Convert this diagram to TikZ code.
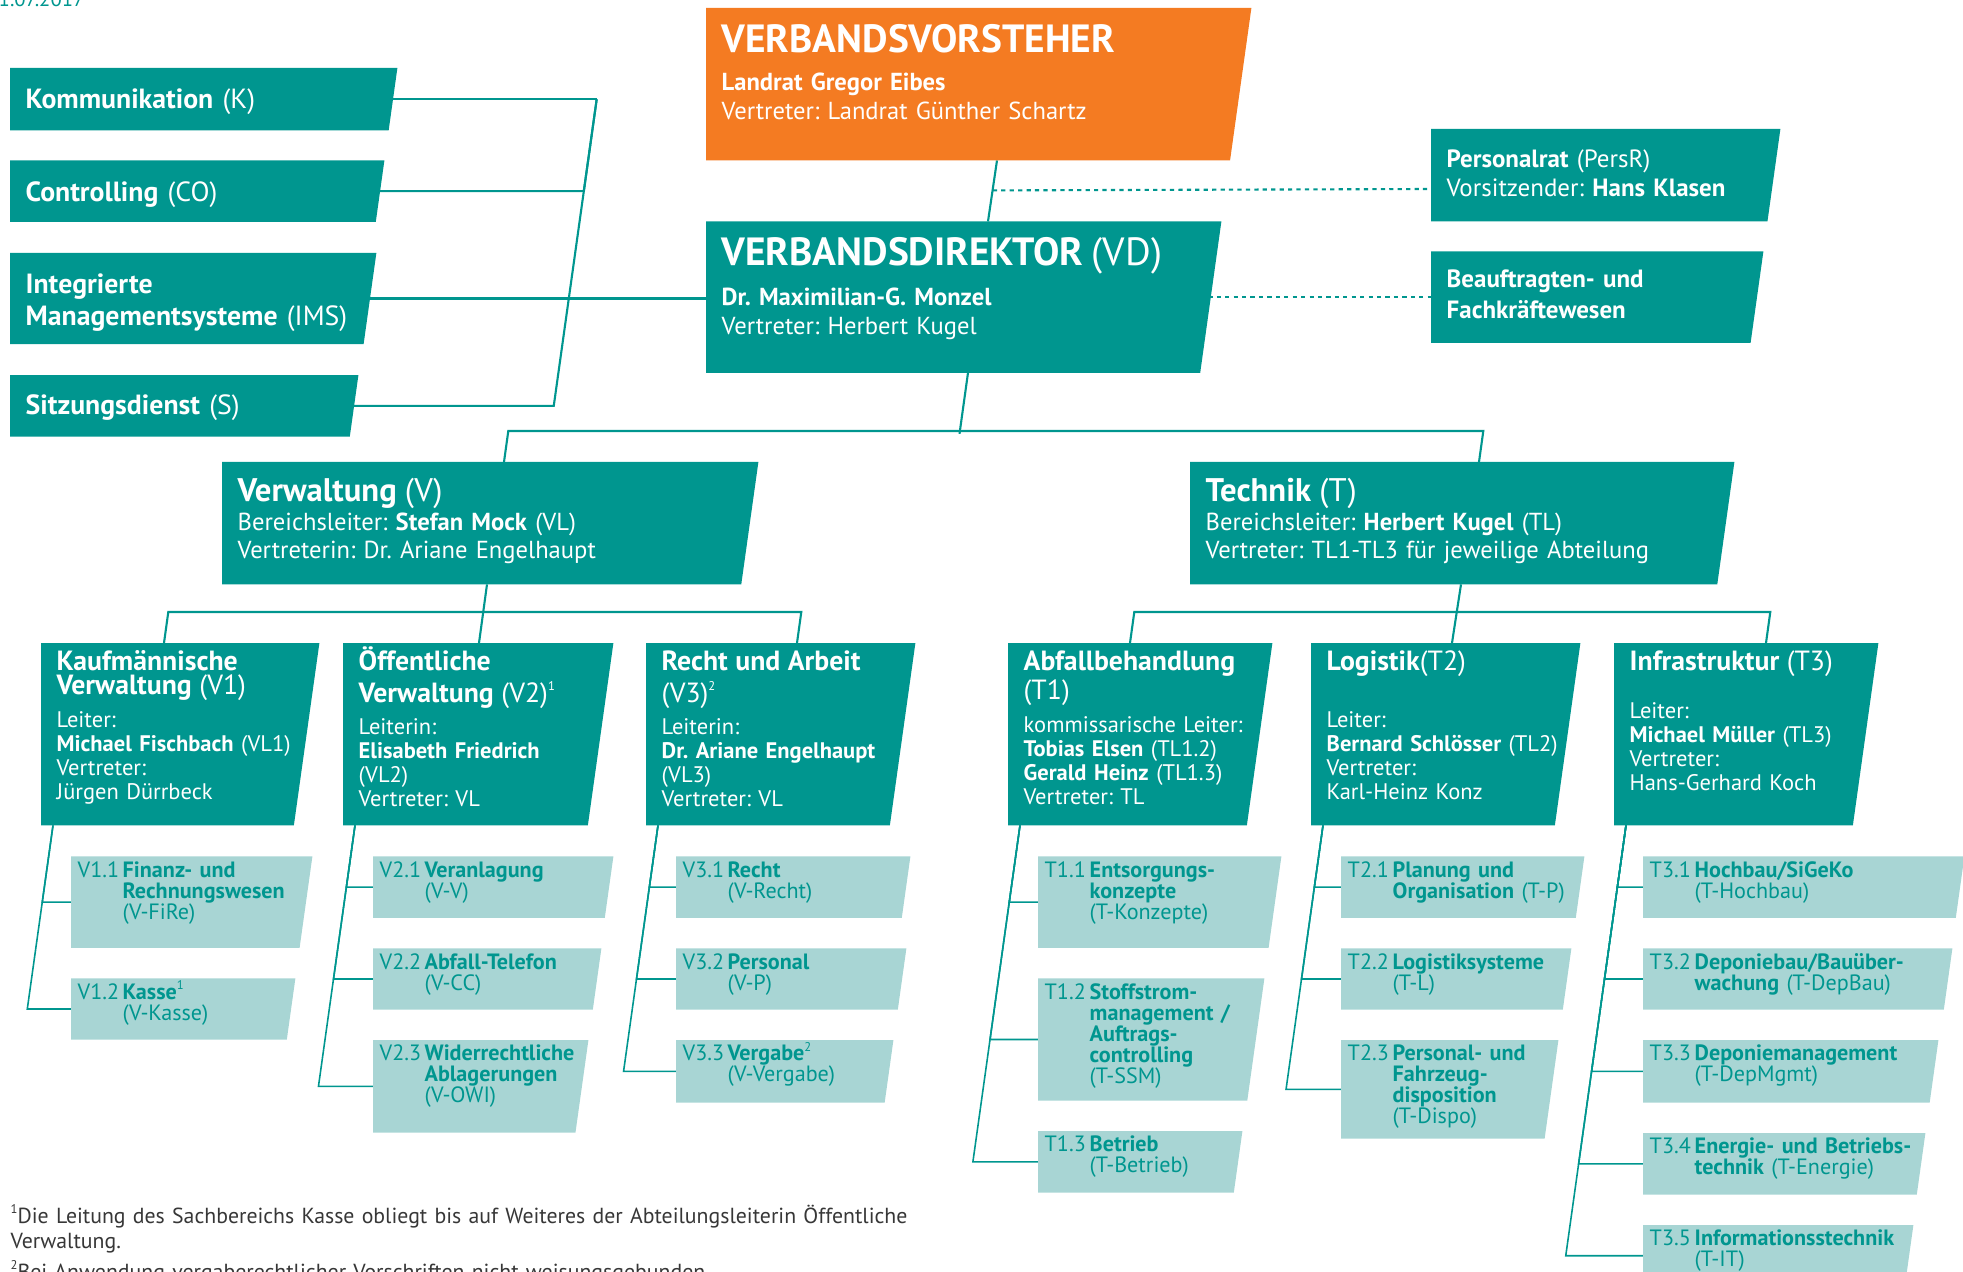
\documentclass[tikz,border=0pt]{standalone}
\usepackage{fontspec}
\setmainfont{PT Sans}
\usetikzlibrary{calc, positioning, backgrounds}
\definecolor{vbteal}{RGB}{0,150,143}
\definecolor{vblight}{RGB}{168,213,212}
\definecolor{vborange}{RGB}{244,123,34}
\definecolor{vbgrey}{RGB}{55,55,55}
\frenchspacing
\newcommand{\tophead}[1]{{\fontsize{11.2pt}{2.9mm}\selectfont #1}}
\newcommand{\areahead}[1]{{\fontsize{9.3pt}{2.85mm}\selectfont #1}}
\newcommand{\depthead}[1]{{\fontsize{7.9pt}{2.4mm}\selectfont #1}}
\newcommand{\fnmark}[1]{\raisebox{0.85ex}{\fontsize{3.6pt}{0pt}\selectfont #1}}
\newcommand{\unitline}[2]{\makebox[4.5mm][l]{#1}\parbox[t]{\dimexpr\linewidth-4.5mm\relax}{#2}}
\tikzstyle{chartbox} = [rectangle, anchor=north west, inner xsep=1.5mm, inner ysep=0pt, align=left, text=white]
\tikzstyle{topbox} = [chartbox, font=\fontsize{7pt}{2.9mm}\selectfont]
\tikzstyle{staffbox} = [chartbox, font=\fontsize{7.9pt}{3.2mm}\selectfont, text height=4mm]
\tikzstyle{sidebox} = [chartbox, font=\fontsize{7.1pt}{2.9mm}\selectfont]
\tikzstyle{areabox} = [chartbox, font=\fontsize{7pt}{2.85mm}\selectfont, text height=3.9mm, text depth=8.2mm]
\tikzstyle{deptbox} = [chartbox, font=\fontsize{6.4pt}{2.4mm}\selectfont, text height=2.7mm, text depth=15.4mm]
\tikzstyle{unitbox} = [rectangle, anchor=north west, inner xsep=0.6mm, inner ysep=0pt, align=left, text=vbteal, font=\fontsize{6.3pt}{2.1mm}\selectfont, text height=2mm]
\tikzstyle{note} = [anchor=base west, inner sep=0pt, align=left, text width=100mm, text=vbgrey, font=\fontsize{6.2pt}{2.5mm}\selectfont]
\tikzstyle{link} = [draw=vbteal, line width=0.6pt]
\tikzstyle{sublink} = [draw=vbteal, line width=0.45pt]
\tikzstyle{dotlink} = [draw=vbteal, line width=0.6pt, dash pattern=on 1.2pt off 1.2pt]

\begin{document}
\begin{tikzpicture}[x=0.1mm, y=-0.1mm]
    \useasboundingbox (0,0) rectangle (1963,1272);

    % Nodes
    \node [anchor=base west, inner sep=0pt, text=vbteal, font=\fontsize{5.9pt}{2.5mm}\selectfont] (date) at (-2,7) {1.07.2017};

    \node [topbox, text width=51.4mm, text height=4.4mm, text depth=10.7mm] (vv) at (706,8)
        {\tophead{\textbf{VERBANDSVORSTEHER}}\\[0.9mm]
         \textbf{Landrat Gregor Eibes}\\
         Vertreter: Landrat Günther Schartz};
    \node [topbox, text width=48.4mm, text height=4.3mm, text depth=10.7mm, below right=6.1mm and 0mm of vv.south west] (vd)
        {\tophead{\textbf{VERBANDSDIREKTOR} (VD)}\\[1.1mm]
         \textbf{Dr. Maximilian-G. Monzel}\\
         Vertreter: Herbert Kugel};
    \node [sidebox, text width=31.8mm, text height=3.8mm, text depth=5.3mm] (persr) at (1431,129)
        {\textbf{Personalrat} (PersR)\\ Vorsitzender: \textbf{Hans Klasen}};
    \node [sidebox, text width=30.1mm, text height=3.5mm, text depth=5.5mm, below right=3mm and 0mm of persr.south west] (bfw)
        {\textbf{Beauftragten- und}\\[0.2mm] \textbf{Fachkräftewesen}};

    \node [staffbox, text width=35.6mm, text depth=2.1mm] (k) at (10,68) {\textbf{Kommunikation} (K)};
    \node [staffbox, text width=34.3mm, text depth=2mm, below right=3mm and 0mm of k.south west] (co) {\textbf{Controlling} (CO)};
    \node [staffbox, text width=33.5mm, text depth=5mm, below right=3.1mm and 0mm of co.south west] (ims)
        {\textbf{Integrierte}\\ \textbf{Managementsysteme} (IMS)};
    \node [staffbox, text width=31.7mm, text height=3.9mm, text depth=2.1mm, below right=3.1mm and 0mm of ims.south west] (s) {\textbf{Sitzungsdienst} (S)};

    \node [areabox, text width=50.5mm] (v) at (222,462)
        {\areahead{\textbf{Verwaltung} (V)}\\
         Bereichsleiter: \textbf{Stefan Mock} (VL)\\
         Vertreterin: Dr. Ariane Engelhaupt};
    \node [areabox, text width=51.3mm] (t) at (1190,462)
        {\areahead{\textbf{Technik} (T)}\\
         Bereichsleiter: \textbf{Herbert Kugel} (TL)\\
         Vertreter: TL1-TL3 für jeweilige Abteilung};

    \node [deptbox, text width=24.7mm] (v1) at (41,643)
        {\depthead{\textbf{Kaufmännische}}\\ \depthead{\textbf{Verwaltung} (V1)}\\[0.9mm]
         Leiter:\\ \textbf{Michael Fischbach} (VL1)\\ Vertreter:\\ Jürgen Dürrbeck};
    \node [deptbox, text width=23.9mm] (v2) at (343,643)
        {\depthead{\textbf{Öffentliche}}\\[0.8mm] \depthead{\textbf{Verwaltung} (V2)\fnmark{1}}\\[0.8mm]
         Leiterin:\\ \textbf{Elisabeth Friedrich}\\ (VL2)\\ Vertreter: VL};
    \node [deptbox, text width=23.8mm] (v3) at (646,643)
        {\depthead{\textbf{Recht und Arbeit}}\\[0.8mm] \depthead{(V3)\fnmark{2}}\\[0.8mm]
         Leiterin:\\ \textbf{Dr. Ariane Engelhaupt}\\ (VL3)\\ Vertreter: VL};
    \node [deptbox, text width=23.3mm] (t1) at (1008,643)
        {\depthead{\textbf{Abfallbehandlung}}\\ \depthead{(T1)}\\[0.9mm]
         kommissarische Leiter:\\ \textbf{Tobias Elsen} (TL1.2)\\ \textbf{Gerald Heinz} (TL1.3)\\ Vertreter: TL};
    \node [deptbox, text width=23.8mm] (t2) at (1311,643)
        {\depthead{\textbf{Logistik}(T2)}\\[3.3mm]
         Leiter:\\ \textbf{Bernard Schlösser} (TL2)\\ Vertreter:\\ Karl-Heinz Konz};
    \node [deptbox, text width=23.3mm] (t3) at (1614,643)
        {\depthead{\textbf{Infrastruktur} (T3)}\\[2.4mm]
         Leiter:\\ \textbf{Michael Müller} (TL3)\\ Vertreter:\\ Hans-Gerhard Koch};

    \node [unitbox, text width=22.8mm, text depth=7mm, below right=3.1mm and 3mm of v1.south west] (v11)
        {\unitline{V1.1}{\textbf{Finanz- und}\\ \textbf{Rechnungswesen}\\ (V-FiRe)}};
    \node [unitbox, text width=21.1mm, text depth=4mm, below right=3.05mm and 0mm of v11.south west] (v12)
        {\unitline{V1.2}{\textbf{Kasse}\fnmark{1}\\ (V-Kasse)}};
    \node [unitbox, text width=22.7mm, text depth=4mm, below right=3.1mm and 3mm of v2.south west] (v21)
        {\unitline{V2.1}{\textbf{Veranlagung}\\ (V-V)}};
    \node [unitbox, text width=21.5mm, text depth=4mm, below right=3.05mm and 0mm of v21.south west] (v22)
        {\unitline{V2.2}{\textbf{Abfall-Telefon}\\ (V-CC)}};
    \node [unitbox, text width=20.2mm, text depth=7.1mm, below right=3.05mm and 0mm of v22.south west] (v23)
        {\unitline{V2.3}{\textbf{Widerrechtliche}\\ \textbf{Ablagerungen}\\ (V-OWI)}};
    \node [unitbox, text width=22.1mm, text depth=4mm, below right=3.1mm and 3mm of v3.south west] (v31)
        {\unitline{V3.1}{\textbf{Recht}\\ (V-Recht)}};
    \node [unitbox, text width=21.7mm, text depth=4mm, below right=3.05mm and 0mm of v31.south west] (v32)
        {\unitline{V3.2}{\textbf{Personal}\\ (V-P)}};
    \node [unitbox, text width=20.4mm, text depth=4.1mm, below right=3.05mm and 0mm of v32.south west] (v33)
        {\unitline{V3.3}{\textbf{Vergabe}\fnmark{2}\\ (V-Vergabe)}};

    \node [unitbox, text width=23mm, text depth=7mm, below right=3.1mm and 3mm of t1.south west] (t11)
        {\unitline{T1.1}{\textbf{Entsorgungs-}\\ \textbf{konzepte}\\ (T-Konzepte)}};
    \node [unitbox, text width=21.3mm, text depth=10.1mm, below right=3.05mm and 0mm of t11.south west] (t12)
        {\unitline{T1.2}{\textbf{Stoffstrom-}\\ \textbf{management /}\\ \textbf{Auftrags-}\\ \textbf{controlling}\\ (T-SSM)}};
    \node [unitbox, text width=19.1mm, text depth=4mm, below right=3.05mm and 0mm of t12.south west] (t13)
        {\unitline{T1.3}{\textbf{Betrieb}\\ (T-Betrieb)}};
    \node [unitbox, text width=23mm, text depth=4mm, below right=3.1mm and 3mm of t2.south west] (t21)
        {\unitline{T2.1}{\textbf{Planung und}\\ \textbf{Organisation} (T-P)}};
    \node [unitbox, text width=21.7mm, text depth=4mm, below right=3.05mm and 0mm of t21.south west] (t22)
        {\unitline{T2.2}{\textbf{Logistiksysteme}\\ (T-L)}};
    \node [unitbox, text width=20.4mm, text depth=7.7mm, below right=3.05mm and 0mm of t22.south west] (t23)
        {\unitline{T2.3}{\textbf{Personal- und}\\ \textbf{Fahrzeug-}\\ \textbf{disposition}\\ (T-Dispo)}};
    \node [unitbox, text width=30.8mm, text depth=4mm, below right=3.1mm and 2.9mm of t3.south west] (t31)
        {\unitline{T3.1}{\textbf{Hochbau/SiGeKo}\\ (T-Hochbau)}};
    \node [unitbox, text width=29.6mm, text depth=4mm, below right=3.05mm and 0mm of t31.south west] (t32)
        {\unitline{T3.2}{\textbf{Deponiebau/Bauüber-}\\ \textbf{wachung} (T-DepBau)}};
    \node [unitbox, text width=28.2mm, text depth=4.1mm, below right=3.05mm and 0mm of t32.south west] (t33)
        {\unitline{T3.3}{\textbf{Deponiemanagement}\\ (T-DepMgmt)}};
    \node [unitbox, text width=26.9mm, text depth=4mm, below right=3.05mm and 0mm of t33.south west] (t34)
        {\unitline{T3.4}{\textbf{Energie- und Betriebs-}\\ \textbf{technik} (T-Energie)}};
    \node [unitbox, text width=25.7mm, text depth=4mm, below right=3.05mm and 0mm of t34.south west] (t35)
        {\unitline{T3.5}{\textbf{Informationsstechnik}\\ (T-IT)}};

    \node [note] (fn1) at (10,1223) {\fnmark{1}Die Leitung des Sachbereichs Kasse obliegt bis auf Weiteres der Abteilungsleiterin Öffentliche\\ Verwaltung.};
    \node [note] (fn2) at (10,1279) {\fnmark{2}Bei Anwendung vergaberechtlicher Vorschriften nicht weisungsgebunden.};

    \begin{scope}[on background layer]
        % Lines
        \path [link] (k.center) -- ++(393,0) coordinate (brk);
        \foreach \nd in {co,s}
            \path [link] let \p1=(brk), \p2=(\nd.center) in (\p2) -- ({\x1-0.14*(\y1-\y2)},\y2) -- (\p1);
        \path [link] (ims.center) -- (ims.center -| vd.west);
        \path [link] ($(vv.south west)+(291,0)$) -- ($(vd.north west)+(282,0)$);
        \path [dotlink] ($(vv.south west)+(286.8,30)$) -- ($(persr.north west)+(0,60)$);
        \path [dotlink] (vd.center |- bfw.west) -- (bfw.west);

        \path [link] ($(vd.south west)+(262,0)$) -- ++(-8.5,61);
        \path [link] ($(v.north west)+(282,0)$) -- ++(4.3,-31) -- ($(t.north west)+(293.3,-31)$) -- ($(t.north west)+(289,0)$);
        \path [link] ($(v.south west)+(265,0)$) -- ($(v2.north west)+(136,0)$);
        \path [link] ($(v1.north west)+(123,0)$) -- ++(4.3,-31) -- ($(v3.north west)+(155.3,-31)$) -- ++(-4.3,31);
        \path [link] ($(t.south west)+(271,0)$) -- ($(t2.north west)+(141,0)$);
        \path [link] ($(t1.north west)+(122,0)$) -- ++(4.3,-31) -- ($(t3.north west)+(156.3,-31)$) -- ++(-4.3,31);

        \foreach \d/\l in {v1/{v11,v12}, v2/{v21,v22,v23}, v3/{v31,v32,v33}, t1/{t11,t12,t13}, t2/{t21,t22,t23}, t3/{t31,t32,t33,t34,t35}}
            \foreach \u in \l
                \path [sublink] let \p1=($(\d.south west)+(12,0)$), \p2=(\u.west) in (\p1) -- ({\x1-0.14*(\y1-\y2)},\y2) -- (\p2);

        % Boxes
        \foreach \nd/\c in {vv/vborange, vd/vbteal, persr/vbteal, bfw/vbteal, k/vbteal, co/vbteal, ims/vbteal, s/vbteal,
                           v/vbteal, t/vbteal, v1/vbteal, v2/vbteal, v3/vbteal, t1/vbteal, t2/vbteal, t3/vbteal,
                           v11/vblight, v12/vblight, v21/vblight, v22/vblight, v23/vblight, v31/vblight, v32/vblight, v33/vblight,
                           t11/vblight, t12/vblight, t13/vblight, t21/vblight, t22/vblight, t23/vblight,
                           t31/vblight, t32/vblight, t33/vblight, t34/vblight, t35/vblight}
            \fill [\c] let \p1=(\nd.north east), \p2=(\nd.south west) in (\p2) |- (\p1) -- ({\x1-0.14*(\y1-\y2)},\y2) -- cycle;
    \end{scope}
\end{tikzpicture}
\end{document}
